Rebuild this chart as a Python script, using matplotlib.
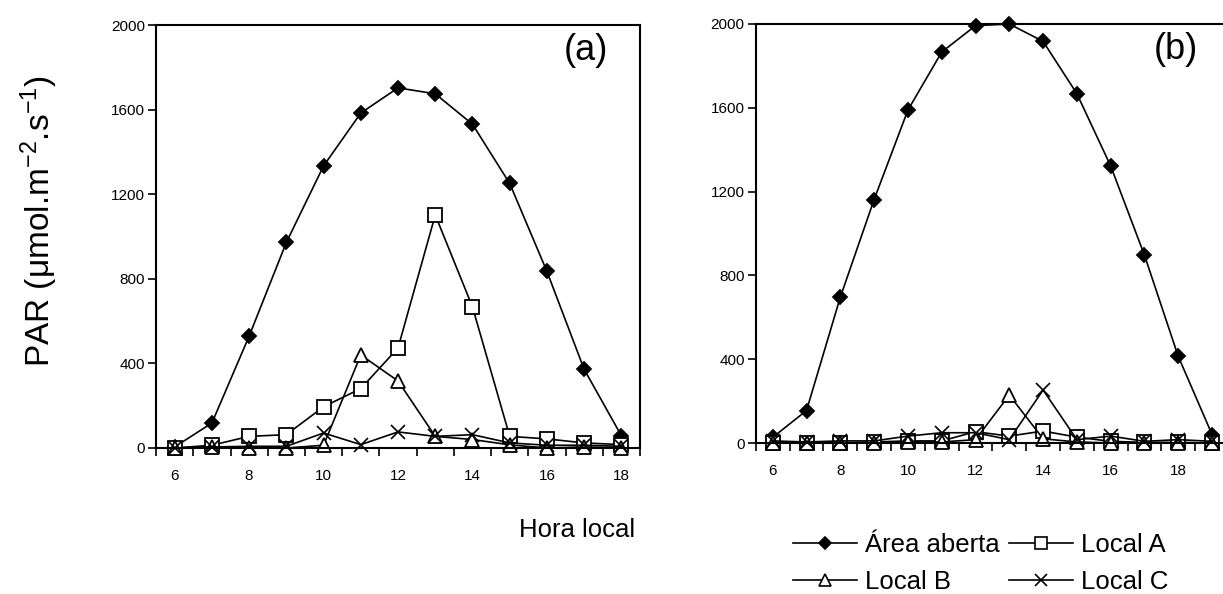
import matplotlib
matplotlib.use("Agg")
import matplotlib.pyplot as plt
from matplotlib.lines import Line2D

plt.rcParams["font.family"] = ["Liberation Sans", "DejaVu Sans"]
plt.rcParams["mathtext.fontset"] = "custom"
plt.rcParams["mathtext.rm"] = "Liberation Sans"
plt.rcParams["mathtext.default"] = "regular"

# panel (a)
hours_a = [6, 7, 8, 9, 10, 11, 12, 13, 14, 15, 16, 17, 18]
aberta_a = [5, 118, 529, 972, 1334, 1584, 1703, 1675, 1531, 1251, 835, 372, 58]
local_a_a = [0, 13, 55, 63, 195, 281, 473, 1102, 667, 55, 43, 24, 16]
local_b_a = [0, 5, 0, 0, 13, 440, 317, 55, 40, 15, 0, 5, 0]
local_c_a = [0, 5, 8, 8, 71, 16, 76, 55, 63, 24, 13, 13, 8]

# panel (b)
hours_b = [6, 7, 8, 9, 10, 11, 12, 13, 14, 15, 16, 17, 18, 19]
aberta_b = [27, 155, 696, 1162, 1589, 1866, 1992, 2000, 1917, 1667, 1322, 896, 413, 40]
local_a_b = [0, 0, 0, 5, 10, 10, 54, 33, 57, 28, 8, 3, 3, 0]
local_b_b = [0, 0, 0, 0, 5, 5, 16, 229, 20, 5, 0, 0, 0, 0]
local_c_b = [10, 5, 10, 10, 33, 49, 49, 16, 253, 16, 33, 8, 16, 8]

series_names = ["Área aberta", "Local A", "Local B", "Local C"]
y_ticks = [0, 400, 800, 1200, 1600, 2000]

styles = [
    dict(marker="D", markersize=7.5, markerfacecolor="black"),
    dict(marker="s", markersize=9.5, markerfacecolor="white"),
    dict(marker="^", markersize=9.5, markerfacecolor="white"),
    dict(marker="x", markersize=10, markeredgewidth=1.2),
]

fig = plt.figure(figsize=(12.23, 5.94), dpi=100)
ax_a = fig.add_axes([0.1276, 0.2458, 0.3957, 0.712])
ax_b = fig.add_axes([0.618, 0.2542, 0.3869, 0.7054])


def draw(ax, hours, data, xmax, label):
    for vals, st in zip(data, styles):
        kw = dict(color="black", linewidth=1.2, markeredgecolor="black",
                  markeredgewidth=1.3, clip_on=False)
        kw.update(st)
        ax.plot(hours, vals, **kw)
    ax.set_xlim(5.5, xmax)
    ax.set_ylim(0, 2000)
    ax.set_yticks(y_ticks)
    ax.set_xticks(list(range(6, int(xmax) + 1, 2)))
    ax.set_xticks([h + 0.5 for h in range(5, int(xmax) + 1)], minor=True)
    ax.tick_params(axis="x", which="major", length=0, pad=15, labelsize=11)
    ax.tick_params(axis="x", which="minor", length=6, width=1.2, direction="out")
    ax.tick_params(axis="y", length=6, width=1.2, direction="out", pad=2, labelsize=11)
    for sp in ax.spines.values():
        sp.set_linewidth(1.5)
    ax.text(0.935, 0.982, label, transform=ax.transAxes, ha="right", va="top", fontsize=26)


draw(ax_a, hours_a, [aberta_a, local_a_a, local_b_a, local_c_a], 18.5, "(a)")
draw(ax_b, hours_b, [aberta_b, local_a_b, local_b_b, local_c_b], 19.5, "(b)")

fig.text(0.032, 0.628, r"PAR ($\mu$mol.m$^{-2}$.s$^{-1}$)", rotation=90,
         ha="center", va="center", fontsize=24)
fig.text(0.472, 0.108, "Hora local", ha="center", va="center", fontsize=18.5)

handles = []
for name, st in zip(series_names, styles):
    kw = dict(color="black", linewidth=1.2, markeredgecolor="black", markeredgewidth=1.2)
    kw.update(st)
    kw["markersize"] = kw["markersize"] * 0.85
    handles.append(Line2D([], [], label=name, **kw))

# legend reads row by row: Área aberta, Local A / Local B, Local C
order = [0, 2, 1, 3]
fig.legend(handles=[handles[i] for i in order], ncol=2, loc="upper left",
           bbox_to_anchor=(0.6485, 0.1027), frameon=False, fontsize=18.5,
           handlelength=2.5, handletextpad=0.3, columnspacing=0.35,
           labelspacing=0.5, borderpad=0, borderaxespad=0)

fig.savefig("out.png", dpi=100)
